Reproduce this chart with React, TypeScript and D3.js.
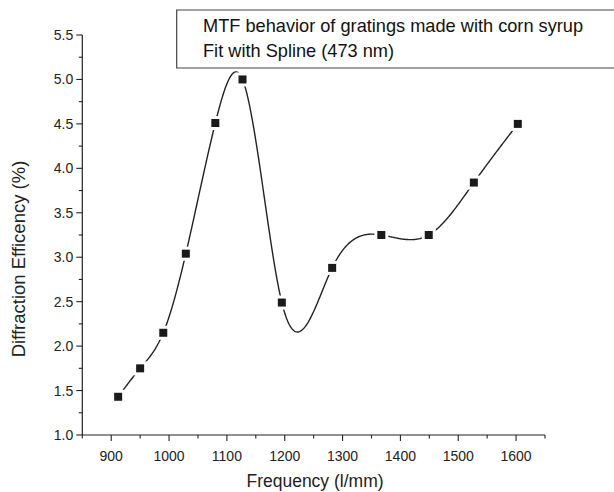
import React from "react";
import * as d3 from "d3";

const frequency = [912, 950, 990, 1029, 1080, 1127, 1195, 1282, 1367, 1449, 1527, 1603];
const efficiency = [1.43, 1.75, 2.15, 3.04, 4.51, 5.0, 2.49, 2.88, 3.25, 3.25, 3.84, 4.5];
const xTicks = [900, 1000, 1100, 1200, 1300, 1400, 1500, 1600];
const yTicks = [1.0, 1.5, 2.0, 2.5, 3.0, 3.5, 4.0, 4.5, 5.0, 5.5];
const legendLines = ["MTF behavior of gratings made with corn syrup", "Fit with Spline (473 nm)"];

// natural cubic spline y(x) evaluator (used only to draw the fit curve)
function naturalSpline(xs: number[], ys: number[]) {
  const n = xs.length;
  const h: number[] = [];
  for (let i = 0; i < n - 1; i++) h.push(xs[i + 1] - xs[i]);
  const a: number[] = new Array(n).fill(0);
  const b: number[] = new Array(n).fill(0);
  const c: number[] = new Array(n).fill(0);
  const r: number[] = new Array(n).fill(0);
  b[0] = 1; b[n - 1] = 1;
  for (let i = 1; i < n - 1; i++) {
    a[i] = h[i - 1];
    b[i] = 2 * (h[i - 1] + h[i]);
    c[i] = h[i];
    r[i] = 6 * ((ys[i + 1] - ys[i]) / h[i] - (ys[i] - ys[i - 1]) / h[i - 1]);
  }
  const cp = new Array(n).fill(0);
  const dp = new Array(n).fill(0);
  cp[0] = c[0] / b[0];
  dp[0] = r[0] / b[0];
  for (let i = 1; i < n; i++) {
    const m = b[i] - a[i] * cp[i - 1];
    cp[i] = c[i] / m;
    dp[i] = (r[i] - a[i] * dp[i - 1]) / m;
  }
  const M = new Array(n).fill(0);
  M[n - 1] = dp[n - 1];
  for (let i = n - 2; i >= 0; i--) M[i] = dp[i] - cp[i] * M[i + 1];
  return (x: number) => {
    let i = 0;
    while (i < n - 2 && x > xs[i + 1]) i++;
    const hi = h[i];
    const t1 = xs[i + 1] - x;
    const t2 = x - xs[i];
    return (
      (M[i] * t1 * t1 * t1) / (6 * hi) +
      (M[i + 1] * t2 * t2 * t2) / (6 * hi) +
      (ys[i] / hi - (M[i] * hi) / 6) * t1 +
      (ys[i + 1] / hi - (M[i + 1] * hi) / 6) * t2
    );
  };
}

export default function App() {
  const W = 614, H = 492;
  const x = d3.scaleLinear().domain([850, 1650]).range([82.3, 545]);
  const y = d3.scaleLinear().domain([1.0, 5.5]).range([435, 35]);
  const font = "'Liberation Sans', Arial, sans-serif";

  const f = naturalSpline(frequency, efficiency);
  const x0 = frequency[0], x1 = frequency[frequency.length - 1];
  const samples = d3.range(0, 501).map((k) => {
    const xv = x0 + ((x1 - x0) * k) / 500;
    return [xv, f(xv)] as [number, number];
  });
  const line = d3.line<[number, number]>().x((d) => x(d[0])).y((d) => y(d[1]));

  const xMinor = d3.range(850, 1651, 50);
  const yMinor = d3.range(1.0, 5.501, 0.25);
  const stroke = "#222";

  return (
    <svg width={W} height={H} style={{ position: "absolute", left: 0, top: 0, background: "#fff" }}>
      <rect x={0} y={0} width={W} height={H} fill="#fff" />
      {/* legend box */}
      <path d={`M${W + 5},10 H176.7 V68 H${W + 5}`} fill="none" stroke="#444" strokeWidth={1.2} />
      {legendLines.map((t, i) => (
        <text key={i} x={203} y={32 + i * 24.5} fontFamily={font} fontSize={18.2} fill="#111">
          {t}
        </text>
      ))}

      {/* spline */}
      <path d={line(samples) || ""} fill="none" stroke={stroke} strokeWidth={1.4} />
      {/* markers with white halo */}
      {frequency.map((fx, i) => (
        <g key={i}>
          <rect x={x(fx) - 7} y={y(efficiency[i]) - 7} width={14} height={14} fill="#fff" />
          <rect x={x(fx) - 4} y={y(efficiency[i]) - 4} width={8} height={8} fill="#1a1a1a" />
        </g>
      ))}

      {/* axes */}
      <line x1={x(850)} x2={x(850)} y1={y(5.5)} y2={y(1.0)} stroke={stroke} strokeWidth={1.2} />
      <line x1={x(850)} x2={x(1650)} y1={y(1.0)} y2={y(1.0)} stroke={stroke} strokeWidth={1.2} />
      {yMinor.map((v, i) => (
        <line key={i} x1={x(850)} x2={x(850) - (i % 2 === 0 ? 6 : 3.5)} y1={y(v)} y2={y(v)} stroke={stroke} strokeWidth={1.1} />
      ))}
      {xMinor.map((v, i) => (
        <line key={i} x1={x(v)} x2={x(v)} y1={y(1.0)} y2={y(1.0) + (i % 2 === 1 ? 6 : 3.5)} stroke={stroke} strokeWidth={1.1} />
      ))}
      {yTicks.map((v) => (
        <text key={v} x={x(850) - 9} y={y(v) + 5} textAnchor="end" fontFamily={font} fontSize={14} fill="#222">
          {v.toFixed(1)}
        </text>
      ))}
      {xTicks.map((v) => (
        <text key={v} x={x(v)} y={y(1.0) + 25.5} textAnchor="middle" fontFamily={font} fontSize={14} fill="#222">
          {v}
        </text>
      ))}
      <text x={315} y={487} textAnchor="middle" fontFamily={font} fontSize={17.5} fill="#222">
        Frequency (l/mm)
      </text>
      <text
        transform={`translate(25,${259}) rotate(-90)`}
        textAnchor="middle"
        fontFamily={font}
        fontSize={18.5}
        fill="#222"
      >
        Diffraction Efficency (%)
      </text>
    </svg>
  );
}
